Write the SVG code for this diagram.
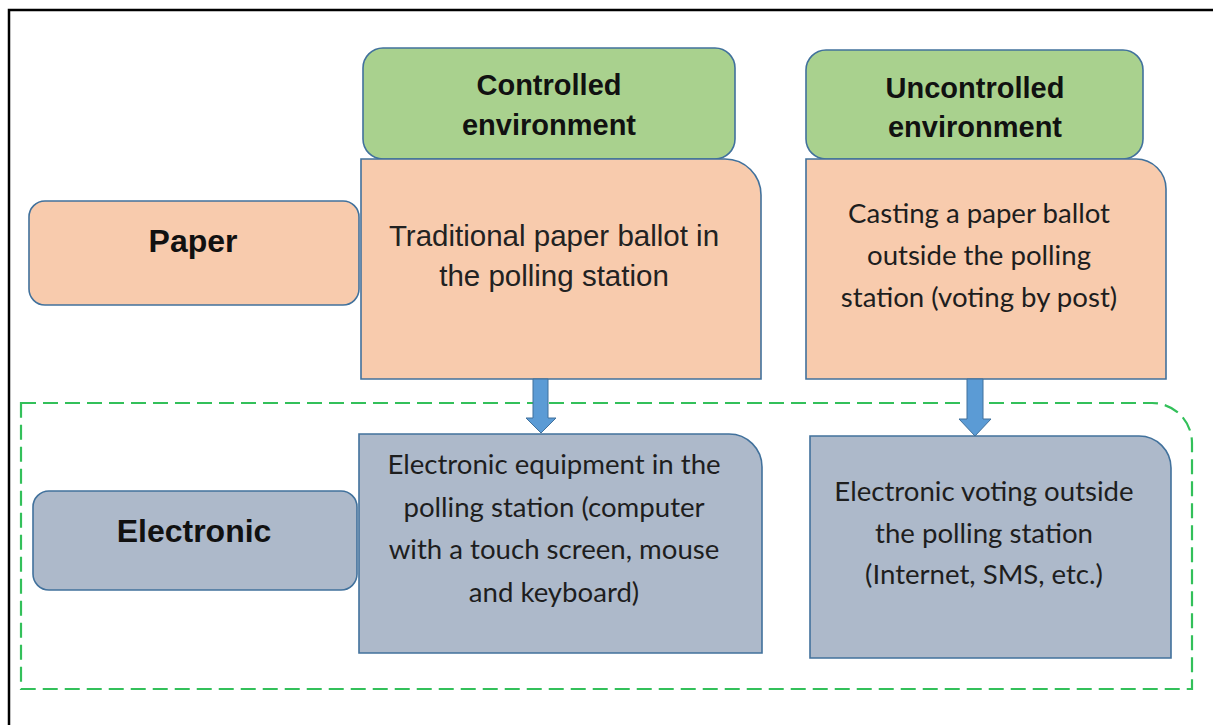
<svg xmlns="http://www.w3.org/2000/svg" width="1213" height="725" viewBox="0 0 1213 725">
  <style>
    .box { stroke: #41719C; stroke-width: 1.6; }
    .green { fill: #A9D18E; }
    .orange { fill: #F8CBAD; }
    .grey { fill: #ADB9CA; }
    .head { font-family: "Liberation Sans", Arial, sans-serif; font-weight: bold; fill: #111; text-anchor: middle; }
    .body { font-family: "Liberation Sans", Arial, sans-serif; fill: #222; text-anchor: middle; }
    .cal { font-family: Lato, "Open Sans", sans-serif; fill: #1e1e1e; text-anchor: middle; }
    .calb { font-family: "Liberation Sans", Arial, sans-serif; font-weight: bold; fill: #111; text-anchor: middle; }
    .arrow { fill: #5B9BD5; stroke: #41719C; stroke-width: 1; }
  </style>

  <rect width="1213" height="725" fill="#ffffff"/>
  <!-- outer frame, open past the right and bottom edges -->
  <rect x="9" y="10" width="1230" height="740" fill="none" stroke="#000" stroke-width="2.5"/>

  <!-- dashed region grouping the electronic row -->
  <g id="electronic-region">
    <path d="M21,403 H1152 A40,40 0 0 1 1192,443 V689 H21 Z" fill="none" stroke="#33C05A" stroke-width="2.2" stroke-dasharray="15 7"/>
  </g>

  <g id="controlled-header">
    <rect class="box green" x="363" y="48" width="372" height="111" rx="20"/>
    <text class="head" font-size="29" x="549" y="95">Controlled</text>
    <text class="head" font-size="29" x="549" y="135">environment</text>
  </g>

  <g id="uncontrolled-header">
    <rect class="box green" x="806" y="50" width="337" height="109" rx="20"/>
    <text class="calb" font-size="29" x="975" y="98">Uncontrolled</text>
    <text class="calb" font-size="29" x="975" y="137">environment</text>
  </g>

  <g id="paper-label">
    <rect class="box orange" x="29" y="201" width="330" height="104" rx="16"/>
    <text class="head" font-size="32" x="193" y="252">Paper</text>
  </g>

  <g id="electronic-label">
    <rect class="box grey" x="33" y="491" width="324" height="99" rx="16"/>
    <text class="head" font-size="32" x="194" y="542">Electronic</text>
  </g>

  <g id="paper-controlled">
    <path class="box orange" d="M361,159 H725 A36,36 0 0 1 761,195 V379 H361 Z"/>
    <text class="body" font-size="29.5" x="554" y="246">Traditional paper ballot in</text>
    <text class="body" font-size="29.5" x="554" y="286">the polling station</text>
  </g>

  <g id="paper-uncontrolled">
    <path class="box orange" d="M806,159 H1136 A30,30 0 0 1 1166,189 V379 H806 Z"/>
    <text class="cal" font-size="27.6" x="979" y="223">Casting a paper ballot</text>
    <text class="cal" font-size="27.6" x="979" y="265">outside the polling</text>
    <text class="cal" font-size="27.6" x="979" y="307">station (voting by post)</text>
  </g>

  <g id="electronic-controlled">
    <path class="box grey" d="M359,434 H729 A33,33 0 0 1 762,467 V653 H359 Z"/>
    <text class="cal" font-size="27.6" x="554" y="474">Electronic equipment in the</text>
    <text class="cal" font-size="27.6" x="554" y="517">polling station (computer</text>
    <text class="cal" font-size="27.6" x="554" y="559">with a touch screen, mouse</text>
    <text class="cal" font-size="27.6" x="554" y="602">and keyboard)</text>
  </g>

  <g id="electronic-uncontrolled">
    <path class="box grey" d="M810,436 H1139 A32,32 0 0 1 1171,468 V658 H810 Z"/>
    <text class="cal" font-size="27.6" x="984" y="501">Electronic voting outside</text>
    <text class="cal" font-size="27.6" x="984" y="543">the polling station</text>
    <text class="cal" font-size="27.6" x="984" y="584">(Internet, SMS, etc.)</text>
  </g>

  <g id="connectors">
    <polygon class="arrow" points="533,379 548,379 548,418 556,418 541,433 526,418 533,418"/>
    <polygon class="arrow" points="967,379 983,379 983,419 991,419 975,436 959,419 967,419"/>
  </g>
</svg>
